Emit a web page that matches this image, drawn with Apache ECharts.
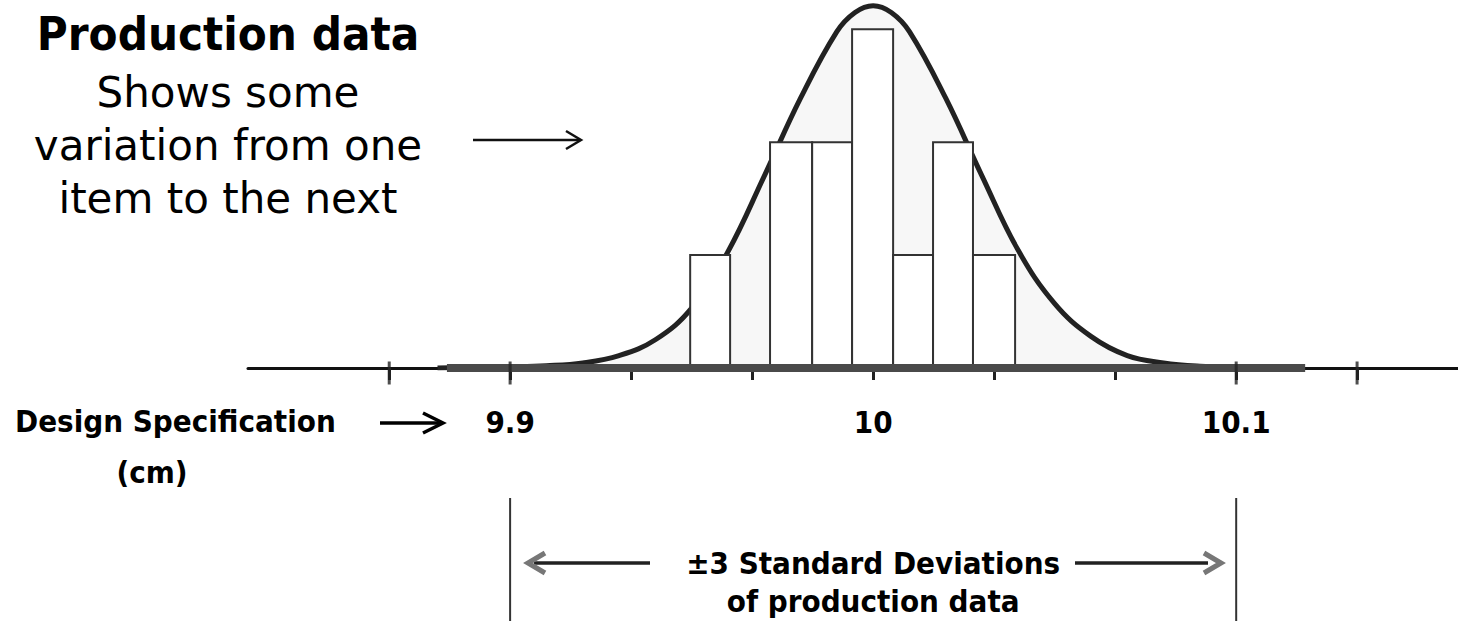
<!DOCTYPE html>
<html>
<head>
<meta charset="utf-8">
<script src="https://cdn.jsdelivr.net/npm/echarts@6/dist/echarts.min.js"></script>
<style>
html,body{margin:0;padding:0;background:#fff;}
#chart{width:1458px;height:621px;}
</style>
</head>
<body>
<div id="chart"></div>
<script>
// ---- data ----
const xRange = [9.8278, 10.1611];
const tickValues = [9.8667, 9.9, 9.9333, 9.9667, 10, 10.0333, 10.0667, 10.1, 10.1333];
const crossTickValues = [9.8667, 9.9, 10.1, 10.1333];
const labelValues = [9.9, 10, 10.1];
const binEdges = [9.9496, 9.9606, 9.9716, 9.9832, 9.9942, 10.0055, 10.0165, 10.0275, 10.0391];
const binCounts = [1, null, 2, 2, 3, 1, 2, 1];
const curveX = [9.88, 9.89, 9.90, 9.91, 9.92, 9.93, 9.94, 9.95, 9.96, 9.97, 9.98, 9.99, 9.995, 10.00, 10.005, 10.01, 10.02, 10.03, 10.04, 10.05, 10.06, 10.07, 10.08, 10.09, 10.10, 10.11];
const curveY = [0.0, 0.005, 0.01, 0.02, 0.045, 0.11, 0.25, 0.53, 1.03, 1.70, 2.39, 2.98, 3.15, 3.21, 3.15, 2.98, 2.39, 1.70, 1.04, 0.57, 0.28, 0.11, 0.045, 0.015, 0.005, 0.0];
const tailBandX = [9.8826, 10.119];
const specLow = 9.9, specHigh = 10.1, specMid = 10;

const FONT_C = "'DejaVu Sans Condensed', 'DejaVu Sans', sans-serif";
const FONT_N = "'DejaVu Sans', sans-serif";

const bins = binCounts.map((c, i) => [binEdges[i], binEdges[i + 1], c]).filter(b => b[2] !== null);
const curveData = curveX.map((x, i) => [x, curveY[i]]);

const chart = echarts.init(document.getElementById('chart'), null, {renderer: 'svg'});
chart.setOption({
  animation: false,
  backgroundColor: '#fff',
  grid: {left: 248, right: 0, top: 0, bottom: 253},
  xAxis: {
    type: 'value', min: xRange[0], max: xRange[1], offset: 4,
    splitLine: {show: false},
    axisLine: {show: true, lineStyle: {color: '#111', width: 3}},
    axisTick: {show: true, customValues: tickValues, length: 12, lineStyle: {color: '#222', width: 3}},
    axisLabel: {
      show: true, customValues: labelValues, margin: 34,
      fontFamily: FONT_C, fontWeight: 'bold', fontSize: 31, color: '#000',
      formatter: v => String(+v.toFixed(2))
    }
  },
  yAxis: {type: 'value', min: 0, max: 3.26, show: false, splitLine: {show: false}},
  series: [
    {
      type: 'line', data: curveData, smooth: 0.4, symbol: 'none', z: 1,
      lineStyle: {color: '#222', width: 5},
      areaStyle: {color: '#f4f4f4'}
    },
    {
      type: 'custom', z: 3, data: bins,
      renderItem: function (params, api) {
        const p0 = api.coord([api.value(0), api.value(2)]);
        const p1 = api.coord([api.value(1), 0]);
        return {
          type: 'rect',
          shape: {x: p0[0], y: p0[1], width: p1[0] - p0[0], height: p1[1] - p0[1]},
          style: {fill: '#fff', stroke: '#333', lineWidth: 2}
        };
      }
    },
    {
      type: 'line', z: 4, symbol: 'none', data: tailBandX.map(x => [x, 0]),
      lineStyle: {color: '#4a4a4a', width: 8}
    },
    {
      type: 'scatter', z: 5, data: crossTickValues.map(x => [x, 0]),
      symbol: 'rect', symbolSize: [3, 23], symbolOffset: [0, 5],
      itemStyle: {color: '#222'}
    }
  ]
});

// annotations anchored on axis values
const px = v => chart.convertToPixel({xAxisIndex: 0}, v);
const xL = px(specLow), xR = px(specHigh), xM = px(specMid);
const txt = (x, y, s, size, weight, font, align) => ({
  type: 'text', x: x, y: y,
  style: {text: s, fontFamily: font, fontSize: size, fontWeight: weight, fill: '#000', align: align || 'center', verticalAlign: 'middle'}
});
const ln = (pts, color, w) => ({type: 'polyline', shape: {points: pts}, style: {stroke: color, lineWidth: w, fill: null, lineJoin: 'miter'}});

chart.setOption({
  graphic: [
    txt(228, 33, 'Production data', 47, 'bold', FONT_C),
    txt(228, 92, 'Shows some', 42, 'normal', FONT_N),
    txt(228, 145, 'variation from one', 42, 'normal', FONT_N),
    txt(228, 198, 'item to the next', 42, 'normal', FONT_N),
    ln([[473, 140], [580, 140]], '#111', 2.5),
    ln([[566, 131], [581, 140], [566, 149]], '#111', 2.5),
    txt(15, 421, 'Design Specification', 31, 'bold', FONT_C, 'left'),
    txt(152, 472, '(cm)', 31, 'bold', FONT_C),
    ln([[380, 423], [442, 423]], '#000', 3.5),
    ln([[423, 413], [443, 423], [423, 433]], '#000', 3.5),
    ln([[xL, 498], [xL, 621]], '#333', 2),
    ln([[xR, 498], [xR, 621]], '#333', 2),
    ln([[534, 563], [650, 563]], '#222', 3.5),
    ln([[545, 553], [528, 563], [545, 573]], '#777', 5),
    ln([[1075, 563], [1208, 563]], '#222', 3.5),
    ln([[1204, 553], [1221, 563], [1204, 573]], '#777', 5),
    txt(xM, 563, '±3 Standard Deviations', 31, 'bold', FONT_C),
    txt(xM, 601, 'of production data', 31, 'bold', FONT_C)
  ]
});
</script>
</body>
</html>
